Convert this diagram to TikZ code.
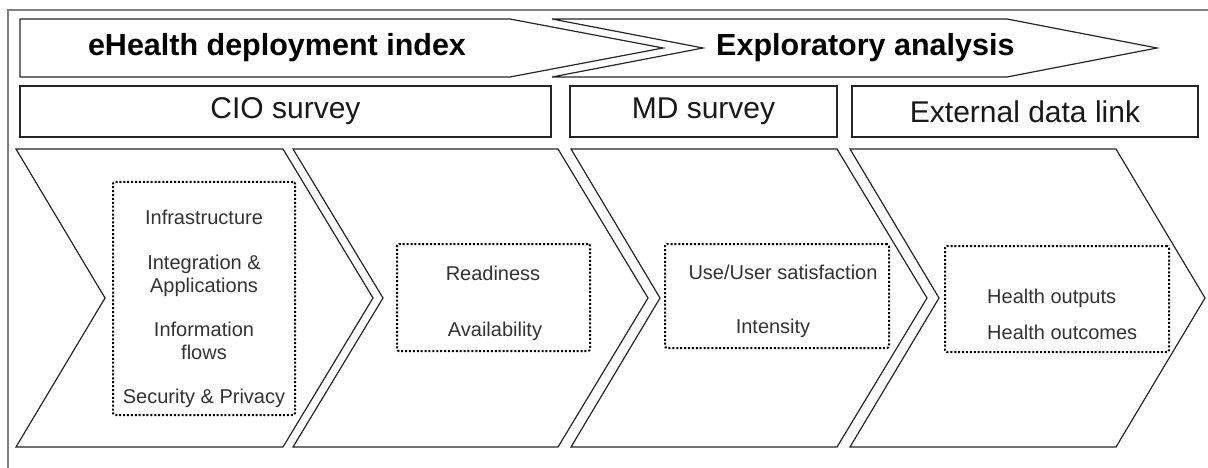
\documentclass[tikz,border=0pt]{standalone}
\usepackage{fontspec}
\setmainfont{Liberation Sans}
\begin{document}
\begin{tikzpicture}[x=1pt,y=-1pt,
  frameline/.style={draw=black!50, line width=2pt},
  shp/.style={draw=black!85, line width=1.2pt, line join=miter},
  boxn/.style={draw=black!85, line width=1.2pt, inner sep=0pt, font=\fontsize{30}{35}\selectfont, text=black!90},
  dotbox/.style={draw=black, line width=2pt, dash pattern=on 2pt off 1.9pt, rounded corners=2pt, inner sep=0pt},
  hdr/.style={font=\fontsize{30.5}{36}\selectfont\bfseries, inner sep=0pt},
  item/.style={font=\fontsize{20}{23}\selectfont, text=black!80, inner sep=0pt}]
\useasboundingbox (0,0) rectangle (1208,468);
% outer frame
\draw[frameline] (8,470) -- (8,10) -- (1210,10);
% top arrows
\draw[shp] (20,19) -- (510,19) -- (663,48) -- (510,77) -- (20,77) -- cycle;
\draw[shp] (552,19) -- (1007,19) -- (1157,48) -- (1007,77) -- (552,77) -- (703,48) -- cycle;
\node[hdr] (h1) at (277,48) {eHealth deployment index};
\node[hdr, anchor=west] (h2) at (716,48) {Exploratory analysis};
% survey boxes
\node[boxn, minimum width=531pt, minimum height=51pt] (cio) at (285.5,111.5) {CIO survey};
\node[boxn, minimum width=267pt, minimum height=51pt] (md) at (703.5,111.5) {MD survey};
\node[boxn, minimum width=346pt, minimum height=51pt] (ext) at (1025,111.5) {External data link};
% chevrons
\draw[shp] (16,149) -- (283,149) -- (373,298) -- (283,447) -- (16,447) -- (105,298) -- cycle;
\draw[shp] (293,149) -- (558,149) -- (648,298) -- (558,447) -- (293,447) -- (383,298) -- cycle;
\draw[shp] (571,149) -- (837,149) -- (927,298) -- (837,447) -- (571,447) -- (660,298) -- cycle;
\draw[shp] (850,149) -- (1116,149) -- (1205,298) -- (1116,447) -- (850,447) -- (939,298) -- cycle;
% dotted boxes
\node[dotbox, minimum width=182pt, minimum height=233pt] (d1) at (204,298.5) {};
\node[dotbox, minimum width=193pt, minimum height=107pt] (d2) at (493.5,297.5) {};
\node[dotbox, minimum width=224pt, minimum height=104pt] (d3) at (777,296) {};
\node[dotbox, minimum width=224pt, minimum height=106pt] (d4) at (1057,299) {};
% items
\node[item] (i1) at (204,217) {Infrastructure};
\node[item] (i2) at (204,264) {Integration \&};
\node[item] (i3) at (204,287) {Applications};
\node[item] (i4) at (204,329) {Information};
\node[item] (i5) at (204,352) {flows};
\node[item] (i6) at (204,398) {Security \& Privacy};
\node[item] (r1) at (493,273) {Readiness};
\node[item] (r2) at (495,331) {Availability};
\node[item] (u1) at (783,272) {Use/User satisfaction};
\node[item] (u2) at (773,328) {Intensity};
\node[item, anchor=west] (o1) at (987,298) {Health outputs};
\node[item, anchor=west] (o2) at (987,332) {Health outcomes};
\end{tikzpicture}
\end{document}
